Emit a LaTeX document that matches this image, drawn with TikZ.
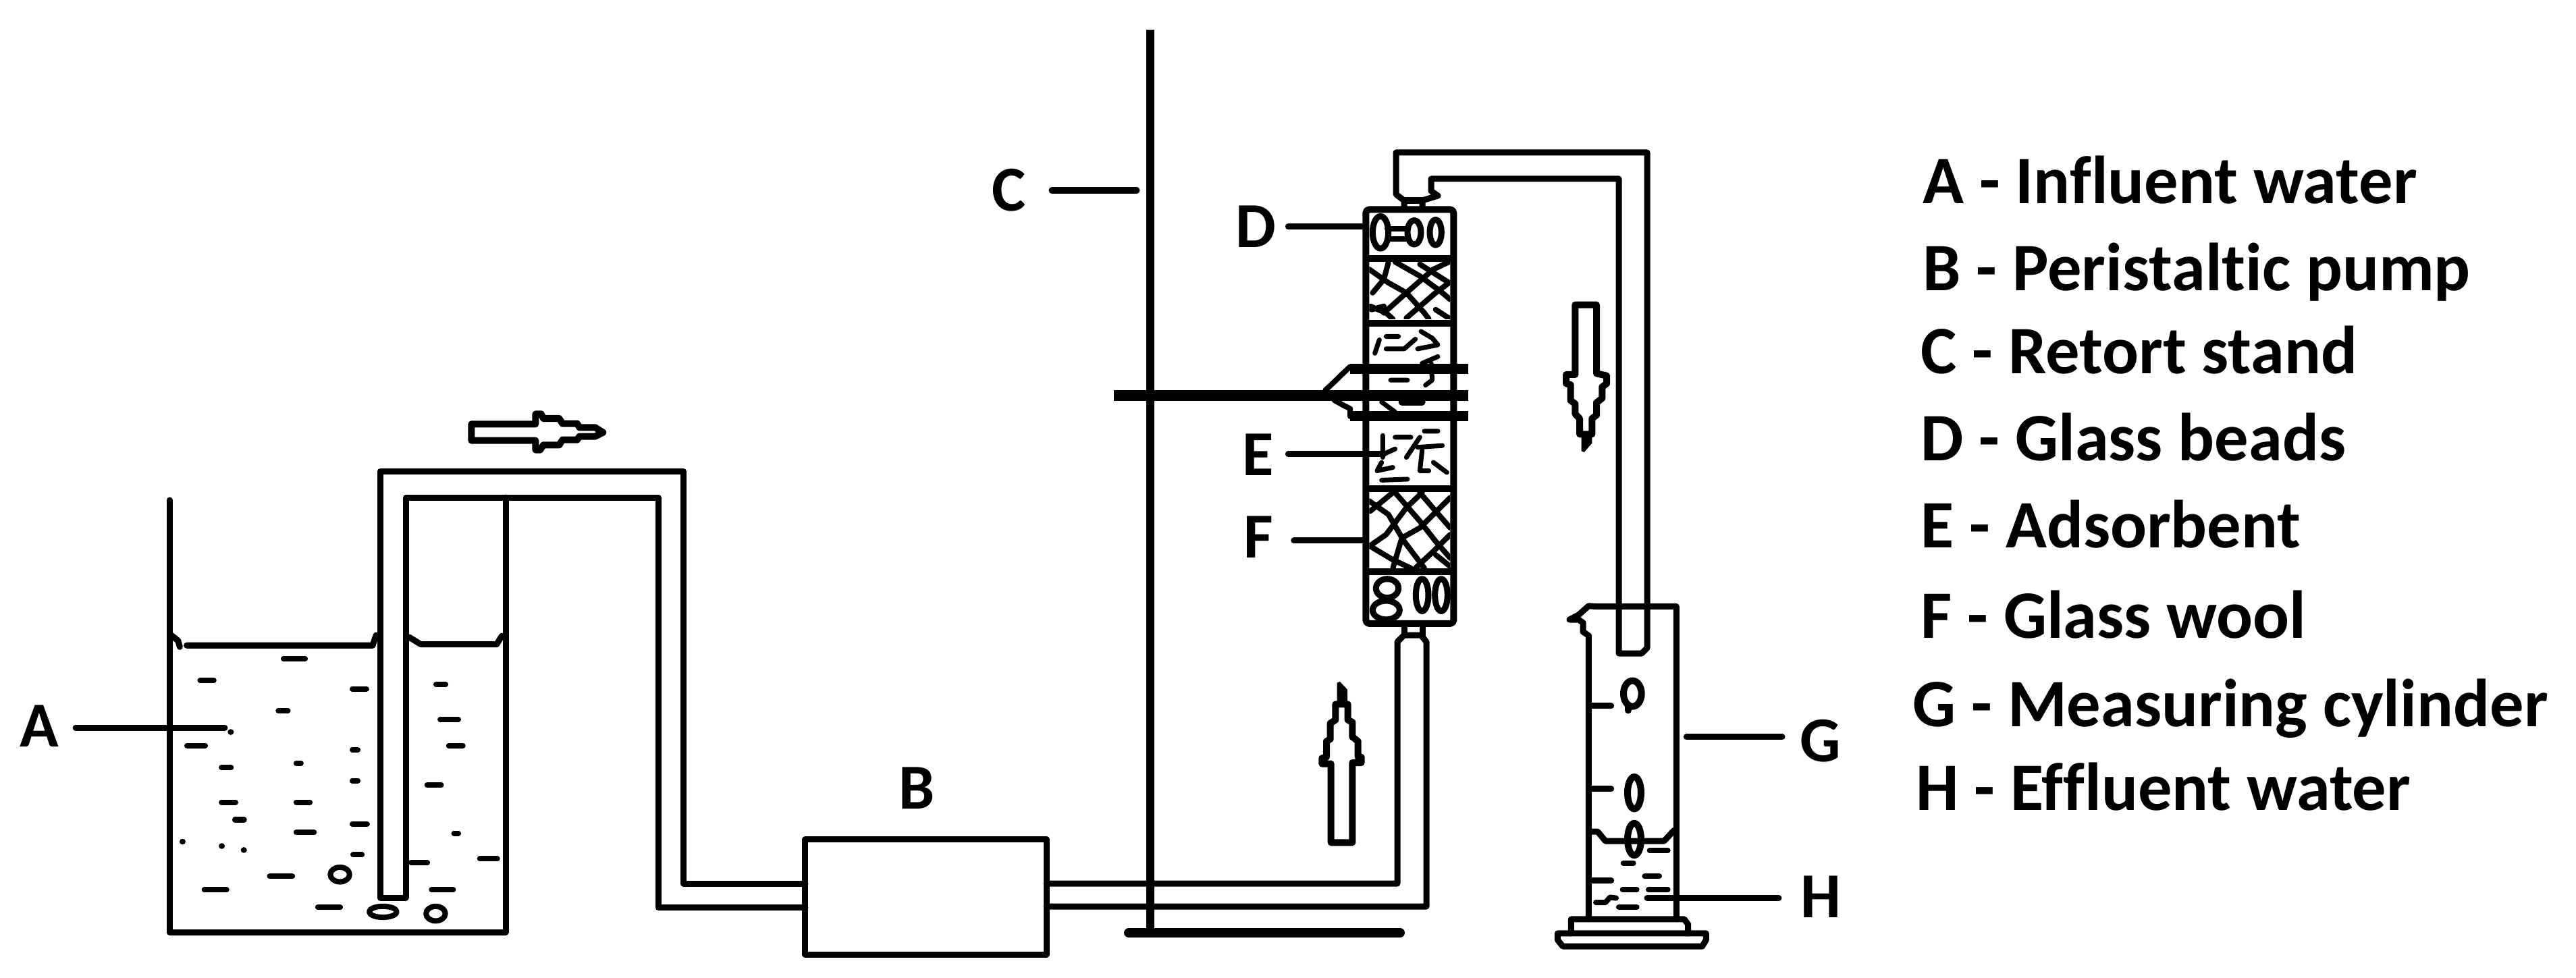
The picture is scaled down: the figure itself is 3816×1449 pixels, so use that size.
\documentclass[tikz,border=0pt]{standalone}
\usepackage{fontspec}
\setmainfont{Carlito}[BoldFont={Carlito Bold},RawFeature={-liga}]
\begin{document}
\begin{tikzpicture}[x=0.01cm,y=-0.01cm,line join=round,line cap=round,
  ln/.style={line width=0.09cm,black},
  heavy/.style={line width=0.1cm,black},
  beadline/.style={line width=0.09cm,black},
  wool/.style={line width=0.08cm,black},
  grains/.style={line width=0.07cm,black},
  z1/.style={shift={(1850,200)},xscale=0.3333,yscale=0.4975},
  z2/.style={shift={(200,600)},xscale=0.5102,yscale=0.5414},
  z3/.style={shift={(2250,850)},xscale=0.3333,yscale=0.382},
  lab/.style={font=\bfseries\fontsize{27}{30}\selectfont,inner sep=0pt},
  key/.style={font=\bfseries\fontsize{28.6}{32}\selectfont,inner sep=0pt,anchor=base west},
  bar/.style={line width=0.15cm,line cap=butt},
  leader/.style={ln}]
\useasboundingbox (0,0) rectangle (3816,1449);
\fill[white] (0,0) rectangle (3816,1449);

% stand
\draw[line width=0.12cm,line cap=butt] (1704,44) -- (1704,1388);
\draw[line width=0.14cm] (1672,1382) -- (2074,1382);

% beaker and inlet tube
\draw[ln] (251,741) -- (251,1381) -- (749,1381) -- (749,737);
\node[draw,line width=0.09cm,minimum width=3.57cm,minimum height=1.7cm,inner sep=0pt] (pump) at (1371.5,1329) {};
\draw[ln] (601,1330) -- (563,1330) -- (563,698) -- (1012,698) -- (1012,1309) -- (1193,1309);
\draw[ln] (601,1330) -- (601,737) -- (975,737) -- (975,1344) -- (1193,1344);
% outlet of pump to column
\draw[ln] (1550,1309) -- (2070,1309) -- (2070,951) -- (2080,941) -- (2105,941) -- (2113,951) -- (2113,1343) -- (1550,1343);
\draw[ln] (2080,941) -- (2080,924) (2107,941) -- (2107,924);

% column top tube
\draw[ln] (2080,309) -- (2080,297) -- (2068,288) -- (2068,226) -- (2440,226) -- (2440,960) -- (2432,968) -- (2398,968) -- (2398,265) -- (2120,265) -- (2120,283) -- (2130,290) -- (2107,297) -- (2107,309);
\draw[ln] (2080,297) -- (2107,297);

% beaker contents
\begin{scope}[z2]
\draw[ln] (105,630) -- (125,645) -- (130,662);
\draw[ln] (150,658) -- (690,658) -- (700,630);
\draw[ln] (795,635) -- (830,655) -- (1050,655) -- (1065,632);
\foreach \a/\b/\c in {425/500/694,183/235/754,625/678/777,868/908/765,410/450/837,880/945/861,145/210/932,905/958/932,625/653/944,245/285/992,462/488/980,625/653/1028,842/895/1040,245/298/1087,462/514/1087,284/323/1135,625/680/1147,462/526/1170,920/945/1172,627/665/1231,795/855/1253,995/1058/1242,195/272/1327,855/930/1327,385/463/1290,525/602/1375}
  \draw[line width=0.08cm] (\a+6,\c) -- (\b-6,\c);
\foreach \a/\b in {138/1195,252/1207,316/1218,278/895}
  \fill (\a,\b) circle [x radius=9,y radius=8];
\draw[line width=0.08cm] (595,1285) ellipse [x radius=28,y radius=20];
\draw[line width=0.08cm] (720,1387) ellipse [x radius=40,y radius=15];
\draw[line width=0.08cm] (873,1392) ellipse [x radius=28,y radius=20];
\end{scope}

% column
\begin{scope}[z1]
\draw[line width=0.1cm,rounded corners=0.05cm] (520,222) rectangle (910,1455);
\foreach \c in {367,560,1053,1300}
  \draw[line width=0.1cm,line cap=butt] (520,\c) -- (910,\c);
% glass beads, top
\draw[beadline] (585,290) ellipse [x radius=35,y radius=48];
\draw[beadline] (735,290) ellipse [x radius=30,y radius=36];
\draw[beadline] (830,290) ellipse [x radius=26,y radius=38];
\draw[wool] (615,280) -- (705,280) (615,310) -- (705,310);
% glass beads, bottom
\draw[beadline] (615,1350) ellipse [x radius=50,y radius=28];
\draw[beadline] (610,1415) ellipse [x radius=60,y radius=28];
\draw[beadline] (770,1370) ellipse [x radius=28,y radius=48];
\draw[beadline] (855,1370) ellipse [x radius=28,y radius=48];
% wool, upper
\begin{scope}
\clip (535,378) rectangle (895,548);
\draw[wool]
  (550,470) -- (600,430) -- (620,380)
  (600,530) -- (700,470) -- (820,400) -- (890,378)
  (700,545) -- (830,470) -- (890,440)
  (545,520) -- (600,510)
  (535,400) -- (620,440) -- (700,470) -- (780,530) -- (800,548)
  (650,378) -- (760,420) -- (860,470) -- (895,490)
  (760,385) -- (890,440)
  (540,510) -- (610,530) -- (640,548)
  (830,520) -- (895,548);
\end{scope}
% wool, lower
\begin{scope}
\clip (535,1065) rectangle (895,1290);
\draw[wool]
  (540,1120) -- (640,1065)
  (535,1225) -- (610,1190) -- (700,1110) -- (770,1065)
  (640,1290) -- (680,1200) -- (760,1170) -- (895,1080)
  (740,1290) -- (820,1240) -- (895,1190)
  (650,1065) -- (760,1150) -- (830,1210) -- (895,1260)
  (760,1065) -- (830,1120) -- (895,1170)
  (535,1090) -- (620,1130) -- (690,1210) -- (780,1290)
  (540,1225) -- (640,1265) -- (720,1290)
  (830,1250) -- (895,1285);
\end{scope}
% adsorbent
\draw[grains]
  (560,650) -- (580,610)
  (610,600) -- (665,600)
  (610,637) -- (690,637) -- (740,608)
  (765,585) -- (815,605) -- (840,625) -- (750,637)
  (770,680) -- (840,660)
  (630,730) -- (705,730)
  (785,745) -- (815,730) -- (810,680)
  (590,795) -- (650,825)
  (595,895) -- (595,960)
  (590,975) -- (570,1000) -- (640,990)
  (600,950) -- (650,935)
  (650,900) -- (720,900)
  (780,882) -- (840,882)
  (700,960) -- (760,900)
  (750,930) -- (860,925)
  (770,940) -- (760,1000) -- (800,1000)
  (820,975) -- (880,1005)
  (590,1028) -- (705,1025);
\draw[line width=0.1cm] (680,795) -- (770,795);
% clamp
\draw[bar] (450,697) -- (975,697);
\draw[bar] (450,838) -- (975,838);
\draw[line width=0.08cm] (450,690) -- (415,712) -- (380,735) -- (340,760);
\draw[line width=0.08cm] (380,790) -- (420,805) -- (450,815) -- (450,838);
\coordinate (clampEnd) at (975,775);
\coordinate (dA) at (175,273); \coordinate (dB) at (520,273);
\coordinate (eA) at (175,950); \coordinate (eB) at (600,950);
\coordinate (fA) at (200,1208); \coordinate (fB) at (520,1208);
\end{scope}
\coordinate (clampStart) at (1650,586);
\draw[bar] (clampStart) -- (clampEnd |- clampStart);

% measuring cylinder
\begin{scope}[z3]
\draw[ln] (310,1340) -- (310,240) -- (285,225) -- (285,190) -- (265,178) -- (225,178) -- (265,160) -- (310,125) -- (340,127) -- (700,127) -- (700,1340);
\draw[ln] (232,1395) -- (232,1340) -- (735,1340) -- (752,1360) -- (752,1395);
\draw[ln] (172,1395) -- (172,1420) -- (195,1445) -- (815,1445) -- (832,1420) -- (832,1395) -- cycle;
\foreach \c in {513,835,1190} \draw[ln] (320,\c) -- (410,\c);
\draw[ln] (320,1000) -- (350,1000) -- (385,1037) -- (645,1037) -- (690,995);
\draw[heavy] (505,465) ellipse [x radius=40,y radius=50];
\draw[heavy] (485,510) -- (485,530);
\draw[heavy] (513,850) ellipse [x radius=30,y radius=62];
\draw[heavy] (513,1030) ellipse [x radius=30,y radius=62];
\foreach \a/\b/\c in {575/668/1073,458/515/1122,553/630/1173,455/530/1225,570/668/1225,438/530/1293}
  \draw[line width=0.08cm] (\a+6,\c) -- (\b-6,\c);
\draw[line width=0.08cm] (342,1275) -- (385,1275) -- (405,1255) -- (432,1258);
\coordinate (gA) at (745,633); \coordinate (gB) at (1170,633);
\coordinate (hA) at (570,1258); \coordinate (hB) at (1155,1258);
\end{scope}

% flow arrows
\begin{scope}[shift={(650,580)},xscale=0.3333,yscale=0.3333]
\draw[heavy] (145,145) -- (430,145) -- (430,100) -- (455,100) -- (465,120) -- (535,120) -- (550,143) -- (615,143) -- (625,160) -- (695,160) -- (730,182) -- (695,200) -- (625,200) -- (615,215) -- (550,215) -- (535,238) -- (465,238) -- (450,260) -- (430,260) -- (430,218) -- (145,218) -- cycle;
\end{scope}
\begin{scope}[shift={(2280,430)},xscale=0.3333,yscale=0.3333]
\draw[heavy] (160,65) -- (255,65) -- (255,370) -- (300,380) -- (300,415) -- (280,430) -- (280,480) -- (255,500) -- (255,555) -- (235,570) -- (235,640) -- (190,640) -- (180,640) -- (180,570) -- (160,550) -- (160,505) -- (140,490) -- (140,420) -- (120,415) -- (120,375) -- (160,375) -- cycle;
\fill (188,640) -- (235,640) -- (235,680) -- (200,720) -- (188,715) -- cycle;
\end{scope}
\begin{scope}[shift={(1920,990)},xscale=0.3333,yscale=0.3333]
\draw[heavy] (155,775) -- (250,775) -- (250,420) -- (290,420) -- (290,395) -- (275,395) -- (275,325) -- (250,305) -- (250,240) -- (230,230) -- (230,160) -- (175,160) -- (175,230) -- (152,245) -- (152,315) -- (135,325) -- (135,395) -- (115,400) -- (115,425) -- (155,425) -- cycle;
\fill (182,160) -- (182,65) -- (195,60) -- (228,95) -- (228,160) -- cycle;
\end{scope}

% diagram labels and leaders
\node[lab] (lA) at (58,1076) {A};
\node[lab] (lB) at (1358,1168) {B};
\node[lab] (lC) at (1495,282) {C};
\node[lab] (lD) at (1860,336) {D};
\node[lab] (lE) at (1864,674) {E};
\node[lab] (lF) at (1864,796) {F};
\node[lab] (lG) at (2697,1098) {G};
\node[lab] (lH) at (2697,1329) {H};
\coordinate (aA) at (112,1078); \coordinate (aB) at (333,1078);
\coordinate (cA) at (1558,282); \coordinate (cB) at (1684,282);
\draw[leader] (aA) -- (aB);
\draw[leader] (cA) -- (cB);
\draw[leader] (dA) -- (dB);
\draw[leader] (eA) -- (eB);
\draw[leader] (fA) -- (fB);
\draw[leader] (gA) -- (gB);
\draw[leader] (hA) -- (hB);

% key
\node[key] (k1) at (2848,302) {A - Influent water};
\node[key] (k2) at (2848,430) {B - Peristaltic pump};
\node[key] (k3) at (2845,553) {C - Retort stand};
\node[key] (k4) at (2845,682) {D - Glass beads};
\node[key] (k5) at (2845,811) {E - Adsorbent};
\node[key] (k6) at (2845,945) {F - Glass wool};
\node[key] (k7) at (2833,1076) {G - Measuring cylinder};
\node[key] (k8) at (2838,1200) {H - Effluent water};
\end{tikzpicture}
\end{document}
